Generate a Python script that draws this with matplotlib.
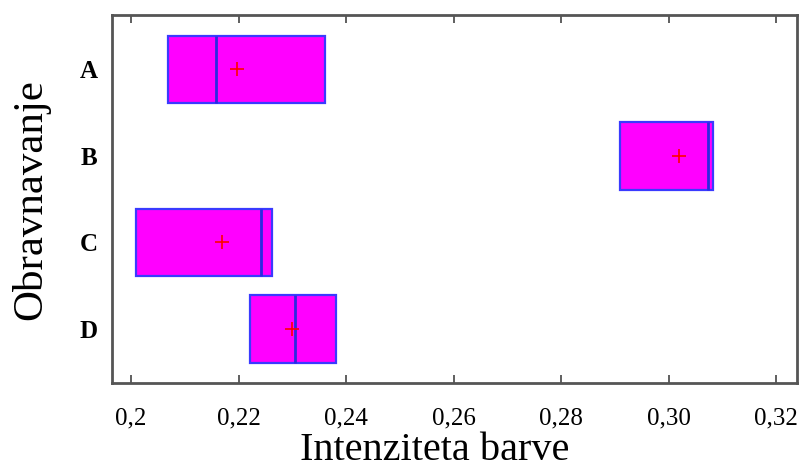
import matplotlib.pyplot as plt

# treatment groups and their box statistics
groups = ['A', 'B', 'C', 'D']
q1 = [0.2068, 0.2909, 0.2009, 0.2221]
q3 = [0.2360, 0.3083, 0.2263, 0.2381]
medians = [0.2158, 0.3073, 0.2241, 0.2306]
means = [0.2197, 0.3020, 0.2169, 0.2300]

xticks = [0.20, 0.22, 0.24, 0.26, 0.28, 0.30, 0.32]
xtick_labels = ['0,2', '0,22', '0,24', '0,26', '0,28', '0,30', '0,32']

plt.rcParams['font.family'] = ['Liberation Serif', 'DejaVu Serif']

fig = plt.figure(figsize=(8.08, 4.69), dpi=100)
ax = fig.add_axes([0.1382, 0.1827, 0.8482, 0.7853])

stats = []
for g, lo, hi, med, mu in zip(groups, q1, q3, medians, means):
    # whiskers collapse onto the box edges
    stats.append(dict(label=g, q1=lo, q3=hi, med=med, mean=mu,
                      whislo=lo, whishi=hi, fliers=[]))

positions = range(1, len(groups) + 1)
ax.bxp(stats, positions=positions, vert=False, widths=0.78,
       patch_artist=True, showmeans=True, showcaps=False,
       boxprops=dict(facecolor='#ff00ff', edgecolor='#3a3aff', linewidth=1.6),
       medianprops=dict(color='#2a2ae0', linewidth=2),
       whiskerprops=dict(linewidth=0),
       meanprops=dict(marker='+', markeredgecolor='red', markersize=10,
                      markeredgewidth=1.2))

ax.set_xlim(0.1964, 0.3239)
ax.set_ylim(4.63, 0.37)

ax.set_xticks(xticks, xtick_labels)
ax.tick_params(axis='x', direction='in', top=True, length=6, width=1.2,
               color='#444444', labelsize=18, pad=17.5)
ax.set_yticks(list(positions), groups)
ax.tick_params(axis='y', length=0, labelsize=18, pad=10)
for lbl in ax.get_yticklabels():
    lbl.set_fontweight('bold')

for s in ax.spines.values():
    s.set_color('#555555')
    s.set_linewidth(2)

ax.set_xlabel('Intenziteta barve', fontsize=29, va='baseline')
ax.xaxis.set_label_coords(0.5378, 0.019, transform=fig.transFigure)
ax.set_ylabel('Obravnavanje', fontsize=31, va='center', ha='center')
ax.yaxis.set_label_coords(0.0384, 0.5736, transform=fig.transFigure)

fig.savefig('out.png', dpi=100)
